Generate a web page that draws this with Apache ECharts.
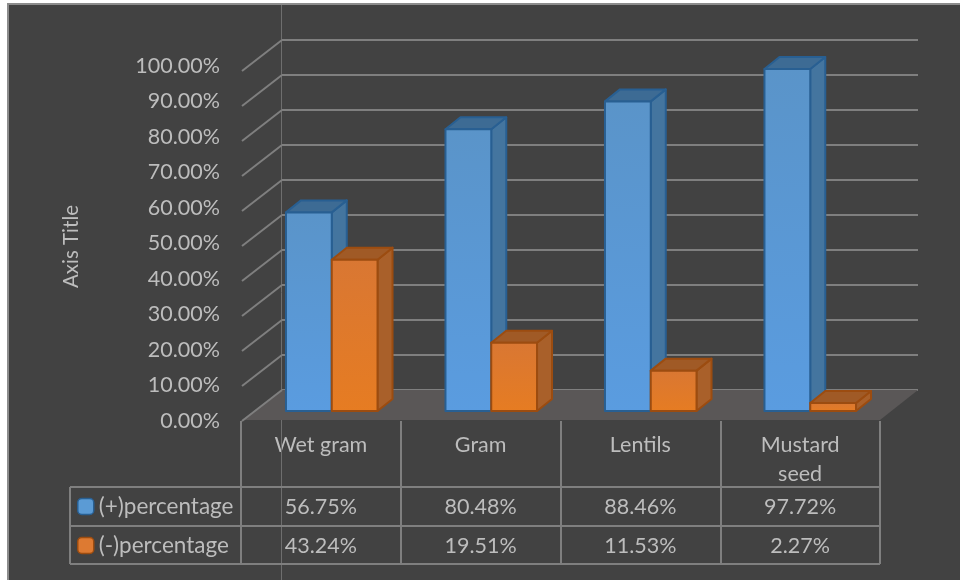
<!DOCTYPE html>
<html>
<head>
<meta charset="utf-8">
<style>
  html, body { margin: 0; padding: 0; background: #fff; }
  #panel { position: absolute; left: 7px; top: 3px; width: 953px; height: 577px; box-sizing: border-box;
           background: #424242; border-left: 2px solid #8c8c8c; border-top: 2px solid #8c8c8c; }
  #chart { position: absolute; left: 0; top: 0; width: 960px; height: 580px; }
</style>
<script src="https://cdn.jsdelivr.net/npm/echarts@6/dist/echarts.min.js"></script>
</head>
<body>
<div id="panel"></div>
<div id="chart"></div>
<script>
const categories = ['Wet gram', 'Gram', 'Lentils', 'Mustard\nseed'];
const plusName = '(+)percentage';
const minusName = '(-)percentage';
const plusValues = [56.75, 80.48, 88.46, 97.72];
const minusValues = [43.24, 19.51, 11.53, 2.27];
const valueTicks = [0, 10, 20, 30, 40, 50, 60, 70, 80, 90, 100];

const pct = v => v.toFixed(2) + '%';
const TEXT = '#bdbdbd';
const LINE = '#7f7f7f';
const FONT = 'Lato, "Noto Sans", sans-serif';
const FONT_SIZE = 21.5;
const DEPTH_X = 15, DEPTH_Y = -12;     // receding offset of a column's top and side faces
const WALL_X = -40, WALL_Y = 31;       // offset from the back wall to the front of the side wall
const BAR_SHARE = 0.287;               // column width as a share of one category

// Builds a renderer for a 3D column; side is -1 for left of the category centre, 0 for right of it.
function cuboid(side, colors) {
  return function (params, api) {
    const top = api.coord([api.value(0), api.value(1)]);
    const base = api.coord([api.value(0), 0]);
    const w = api.size([1, 0])[0] * BAR_SHARE;
    const x0 = top[0] + side * w, x1 = x0 + w;
    const y0 = top[1], y1 = base[1];
    const stroke = { stroke: colors.edge, lineWidth: 2, lineJoin: 'round' };
    const poly = (points, fill) => ({ type: 'polygon', shape: { points }, style: Object.assign({ fill }, stroke) });
    return {
      type: 'group',
      children: [
        poly([[x1, y0], [x1 + DEPTH_X, y0 + DEPTH_Y], [x1 + DEPTH_X, y1 + DEPTH_Y], [x1, y1]], colors.side),
        poly([[x0, y0], [x0 + DEPTH_X, y0 + DEPTH_Y], [x1 + DEPTH_X, y0 + DEPTH_Y], [x1, y0]], colors.top),
        poly([[x0, y0], [x1, y0], [x1, y1], [x0, y1]], {
          type: 'linear', x: 0, y: 0, x2: 0, y2: 1,
          colorStops: [{ offset: 0, color: colors.frontTop }, { offset: 1, color: colors.frontBottom }]
        })
      ]
    };
  };
}

const blue = { edge: '#285f92', side: '#44759f', top: '#3d6b94', frontTop: '#5a94c9', frontBottom: '#5a9ce0' };
const orange = { edge: '#9c4c10', side: '#a9602a', top: '#a05a26', frontTop: '#d97733', frontBottom: '#e67c22' };

const rowLine = (x1, y, x2) => ({
  type: 'line', z: 3, shape: { x1, y1: y, x2, y2: y }, style: { stroke: LINE, lineWidth: 2 }
});

const chart = echarts.init(document.getElementById('chart'), null, { renderer: 'canvas' });
chart.setOption({
  animation: false,
  backgroundColor: 'transparent',
  textStyle: { fontFamily: FONT },
  grid: [
    { left: 241, top: 66, width: 639, height: 355 },   // value labels and data table
    { left: 282, top: 40, width: 636, height: 350 },   // back wall and floor
    { left: 252, top: 61, width: 638, height: 350 }    // front plane of the columns
  ],
  xAxis: [
    {
      gridIndex: 0, type: 'category', data: categories, position: 'bottom',
      axisLine: { show: false },
      axisTick: { show: true, alignWithLabel: false, length: 143, lineStyle: { color: LINE, width: 2 } },
      axisLabel: { color: TEXT, fontSize: FONT_SIZE, margin: 10, lineHeight: 29, fontFamily: FONT, interval: 0 }
    },
    {
      gridIndex: 0, type: 'category', data: plusValues.map(pct), position: 'bottom', offset: 75,
      axisLine: { show: false }, axisTick: { show: false },
      axisLabel: { color: TEXT, fontSize: FONT_SIZE, margin: 0, fontFamily: FONT, interval: 0 }
    },
    {
      gridIndex: 0, type: 'category', data: minusValues.map(pct), position: 'bottom', offset: 114,
      axisLine: { show: false }, axisTick: { show: false },
      axisLabel: { color: TEXT, fontSize: FONT_SIZE, margin: 0, fontFamily: FONT, interval: 0 }
    },
    { gridIndex: 1, type: 'value', min: 0, max: 1, show: false },
    { gridIndex: 2, type: 'category', data: categories, show: false }
  ],
  yAxis: [
    {
      gridIndex: 0, type: 'value', min: 0, max: 100, interval: 10,
      name: 'Axis Title', nameLocation: 'middle', nameRotate: 90, nameGap: 159,
      nameTextStyle: { color: TEXT, fontSize: 20.5, fontFamily: FONT, padding: [0, 6, 0, 0] },
      axisLine: { show: false }, axisTick: { show: false }, splitLine: { show: false },
      axisLabel: { color: TEXT, fontSize: FONT_SIZE, margin: 21, fontFamily: FONT, formatter: pct }
    },
    {
      gridIndex: 1, type: 'value', min: 0, max: 100, interval: 10,
      axisLine: { show: false }, axisTick: { show: false }, axisLabel: { show: false },
      splitLine: { show: true, lineStyle: { color: LINE, width: 2 } }
    },
    { gridIndex: 2, type: 'value', min: 0, max: 100, interval: 10, show: false }
  ],
  legend: {
    orient: 'vertical', left: 72, top: 490, itemWidth: 16, itemHeight: 16, itemGap: 16,
    selectedMode: false,
    textStyle: { color: TEXT, fontSize: 22.5, fontFamily: FONT },
    data: [
      { name: plusName, itemStyle: { color: '#5b9bd5', borderColor: '#285f92', borderWidth: 1.5 } },
      { name: minusName, itemStyle: { color: '#dd7a32', borderColor: '#9c4c10', borderWidth: 1.5 } }
    ]
  },
  series: [
    {
      name: 'floor', type: 'custom', xAxisIndex: 3, yAxisIndex: 1, z: 2, silent: true,
      data: [[0, 0, 1]],
      renderItem: function (params, api) {
        const a = api.coord([api.value(0), api.value(1)]);
        const b = api.coord([api.value(2), api.value(1)]);
        return {
          type: 'polygon',
          shape: { points: [a, b, [b[0] - 38, b[1] + 30], [a[0] + WALL_X, a[1] + 30]] },
          style: { fill: '#5a5757' }
        };
      }
    },
    {
      name: 'side wall', type: 'custom', xAxisIndex: 3, yAxisIndex: 1, z: 2, silent: true,
      data: valueTicks.map(v => [0, v]),
      renderItem: function (params, api) {
        const p = api.coord([api.value(0), api.value(1)]);
        return {
          type: 'line',
          shape: { x1: p[0], y1: p[1], x2: p[0] + WALL_X, y2: p[1] + WALL_Y },
          style: { stroke: LINE, lineWidth: 2 }
        };
      }
    },
    {
      name: plusName, type: 'custom', xAxisIndex: 4, yAxisIndex: 2, z: 4, silent: true,
      itemStyle: { color: '#5b9bd5' },
      encode: { x: 0, y: 1 },
      data: plusValues.map((v, i) => [i, v]),
      renderItem: cuboid(-1, blue)
    },
    {
      name: minusName, type: 'custom', xAxisIndex: 4, yAxisIndex: 2, z: 5, silent: true,
      itemStyle: { color: '#dd7a32' },
      encode: { x: 0, y: 1 },
      data: minusValues.map((v, i) => [i, v]),
      renderItem: cuboid(0, orange)
    }
  ],
  graphic: [
    // Data-table rules and box around the legend column
    rowLine(70, 487, 880),
    rowLine(70, 526, 880),
    rowLine(70, 564, 880),
    { type: 'line', z: 3, shape: { x1: 70, y1: 487, x2: 70, y2: 564 }, style: { stroke: LINE, lineWidth: 2 } },
    // Hairline that runs the full height at the back corner
    { type: 'line', z: 1, shape: { x1: 281.5, y1: 5, x2: 281.5, y2: 580 }, style: { stroke: '#6e6e6e', lineWidth: 1 } }
  ]
});
</script>
</body>
</html>
